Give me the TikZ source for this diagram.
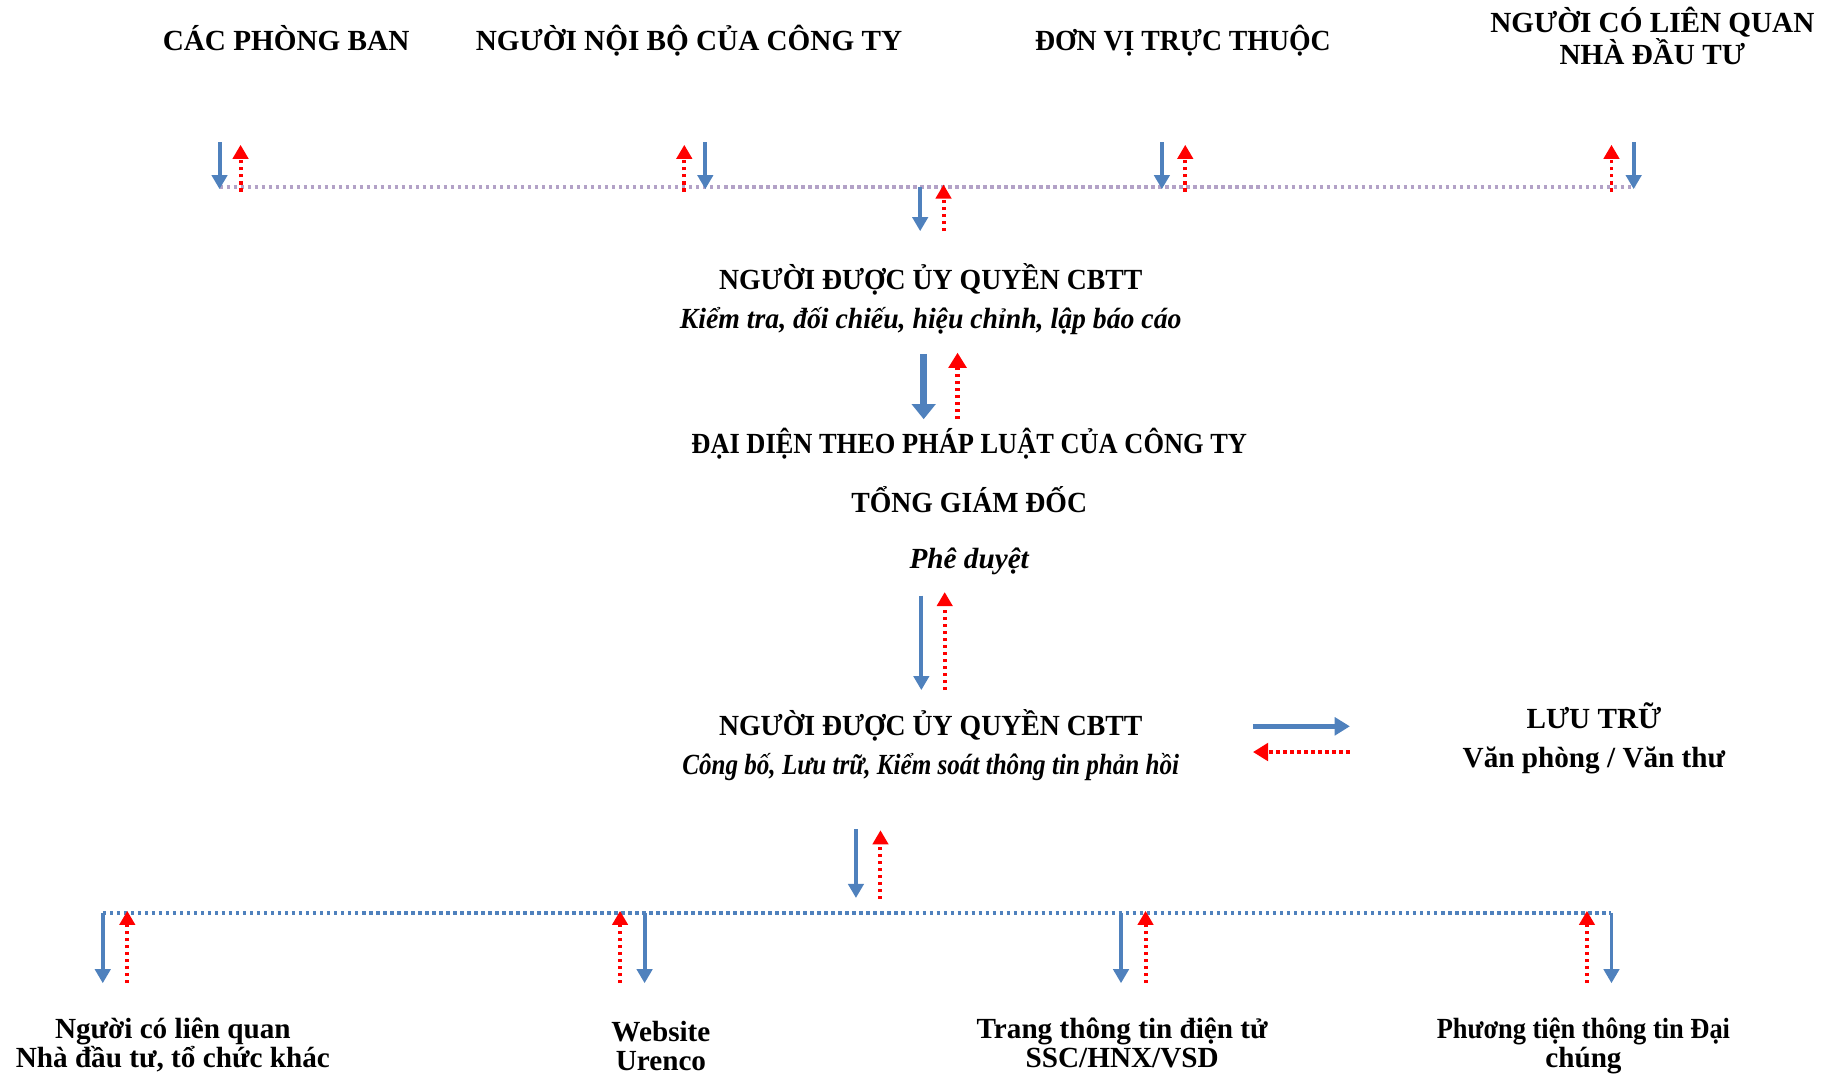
\documentclass[tikz,border=0pt]{standalone}
\usepackage{fontspec}
\setmainfont{Liberation Serif}
\newfontfamily\fa[FakeStretch=0.95]{Liberation Serif}
\newfontfamily\fb[FakeStretch=0.905]{Liberation Serif}
\newfontfamily\fc[FakeStretch=0.86]{Liberation Serif}
\usetikzlibrary{arrows.meta}
\definecolor{c1}{HTML}{4F81BD}
\definecolor{c2}{HTML}{B3A2C7}
\tikzstyle{t1} = [font=\fontsize{25}{26}\selectfont\bfseries, anchor=base, inner sep=0pt]
\tikzstyle{t2} = [font=\fontsize{25}{26}\selectfont\bfseries\itshape, anchor=base, inner sep=0pt]
\tikzstyle{a1} = [draw=c1, line width=3.4pt, -{Triangle[width=13pt,length=12pt]}]
\tikzstyle{a2} = [draw=red, line width=3.4pt, dash pattern=on 3pt off 3pt, -{Triangle[width=13pt,length=12pt]}]
\tikzstyle{a3} = [draw=c1, line width=6pt, -{Triangle[width=20pt,length=13pt]}]
\tikzstyle{a4} = [draw=red, line width=4pt, dash pattern=on 3pt off 3pt, -{Triangle[width=15pt,length=13pt]}]
\tikzstyle{l1} = [line width=3.4pt, dash pattern=on 3pt off 3pt]

\begin{document}
\begin{tikzpicture}[x=1pt, y=-1pt]
    \useasboundingbox (0,0) rectangle (1568,920);

    \node[t1] (pb) at (245,43) {CÁC PHÒNG BAN};
    \node[t1] (nb) at (590,43) {NGƯỜI NỘI BỘ CỦA CÔNG TY};
    \node[t1] (dv) at (1013,43) {\fa ĐƠN VỊ TRỰC THUỘC};
    \node[t1] (lq1) at (1415,28) {NGƯỜI CÓ LIÊN QUAN};
    \node[t1] (lq2) at (1415,55) {NHÀ ĐẦU TƯ};

    \coordinate (tl) at (188,160);
    \coordinate (tr) at (1400,160);
    \draw[l1, draw=c2] (tl) -- (tr);
    \foreach \n/\x in {d1/188, d2/604, d3/995, d4/1399} {
      \coordinate (\n) at (\x,162);
      \draw[a1] (\n) ++(0,-40) -- (\n);
    }
    \foreach \n/\x in {u1/206, u2/586, u3/1015, u4/1380} {
      \coordinate (\n) at (\x,164);
      \draw[a2] (\n) -- ++(0,-40);
    }
    \coordinate (d5) at (788,198);
    \coordinate (u5) at (808,198);
    \draw[a1] (d5) ++(0,-38) -- (d5);
    \draw[a2] (u5) -- ++(0,-40);

    \node[t1] (q1) at (797,248) {\fa NGƯỜI ĐƯỢC ỦY QUYỀN CBTT};
    \node[t2] (q1b) at (797,281) {\fa Kiểm tra, đối chiếu, hiệu chỉnh, lập báo cáo};

    \coordinate (d6) at (791,359);
    \coordinate (u6) at (820,359);
    \draw[a3] (d6) ++(0,-56) -- (d6);
    \draw[a4] (u6) -- ++(0,-57);

    \node[t1] (dd) at (830,388) {\fb ĐẠI DIỆN THEO PHÁP LUẬT CỦA CÔNG TY};
    \node[t1] (gd) at (830,439) {\fa TỔNG GIÁM ĐỐC};
    \node[t2] (pd) at (830,487) {Phê duyệt};

    \coordinate (d7) at (789,591);
    \coordinate (u7) at (809,591);
    \draw[a1] (d7) ++(0,-81) -- (d7);
    \draw[a2] (u7) -- ++(0,-84);

    \node[t1] (q2) at (797,630) {\fa NGƯỜI ĐƯỢC ỦY QUYỀN CBTT};
    \node[t2] (q2b) at (797,663) {\fc Công bố, Lưu trữ, Kiểm soát thông tin phản hồi};

    \coordinate (h1) at (1073,622);
    \coordinate (h2) at (1156,622);
    \coordinate (h3) at (1156,644);
    \coordinate (h4) at (1073,644);
    \draw[a1, line width=4pt, -{Triangle[width=15pt,length=13pt]}] (h1) -- (h2);
    \draw[a4, line width=3.4pt] (h3) -- (h4);

    \node[t1] (lt) at (1365,624) {LƯU TRỮ};
    \node[t1] (vp) at (1365,657) {Văn phòng / Văn thư};

    \coordinate (d8) at (733,769);
    \coordinate (u8) at (754,770);
    \draw[a1] (d8) ++(0,-59) -- (d8);
    \draw[a2] (u8) -- ++(0,-59);

    \coordinate (bl) at (88,782);
    \coordinate (br) at (1380,782);
    \draw[l1, draw=c1] (bl) -- (br);
    \foreach \n/\x in {e1/88, e2/552, e3/960, e4/1380} {
      \coordinate (\n) at (\x,842);
      \draw[a1] (\n) ++(0,-60) -- (\n);
    }
    \foreach \n/\x in {v1/109, v2/531, v3/981, v4/1359} {
      \coordinate (\n) at (\x,842);
      \draw[a2] (\n) -- ++(0,-62);
    }

    \node[t1] (k1) at (148,889) {Người có liên quan};
    \node[t1] (k1b) at (148,914) {Nhà đầu tư, tổ chức khác};
    \node[t1] (k2) at (566,892) {Website};
    \node[t1] (k2b) at (566,917) {Urenco};
    \node[t1] (k3) at (961,889) {Trang thông tin điện tử};
    \node[t1] (k3b) at (961,914) {SSC/HNX/VSD};
    \node[t1] (k4) at (1356,889) {\fb Phương tiện thông tin Đại};
    \node[t1] (k4b) at (1356,914) {chúng};
  \end{tikzpicture}
\end{document}
